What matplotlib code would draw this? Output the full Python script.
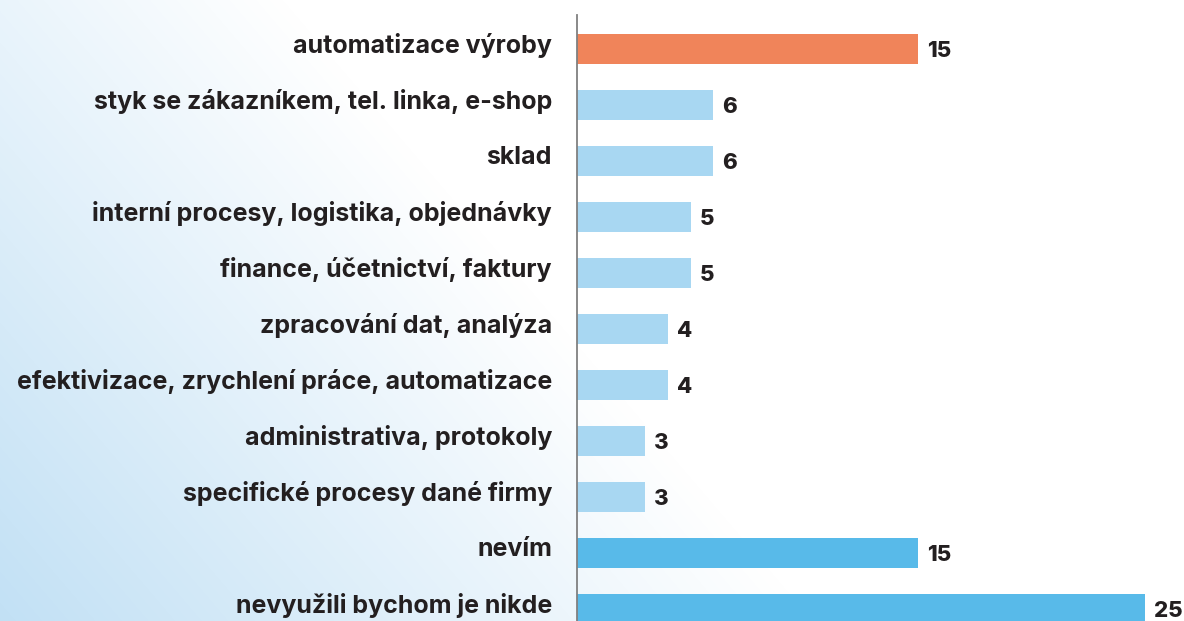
import numpy as np
import matplotlib.pyplot as plt

categories = [
    "automatizace výroby",
    "styk se zákazníkem, tel. linka, e-shop",
    "sklad",
    "interní procesy, logistika, objednávky",
    "finance, účetnictví, faktury",
    "zpracování dat, analýza",
    "efektivizace, zrychlení práce, automatizace",
    "administrativa, protokoly",
    "specifické procesy dané firmy",
    "nevím",
    "nevyužili bychom je nikde",
]
values = [15, 6, 6, 5, 5, 4, 4, 3, 3, 15, 25]
colors = ["#F0845A"] + ["#A8D7F2"] * 8 + ["#58BAE9"] * 2

W, H = 1184, 621
fig = plt.figure(figsize=(W / 100, H / 100), dpi=100)

# background gradient
bg = fig.add_axes([0, 0, 1, 1])
xx, yy = np.meshgrid(np.arange(W), np.arange(H))
t = np.clip(1 - 0.00123 * xx - 0.00105 * (H - yy), 0, 1)
blue = np.array([0.76, 0.88, 0.96])
img = 1 - t[..., None] * (1 - blue)
bg.imshow(img, aspect="auto", extent=[0, W, H, 0])
bg.axis("off")

x0 = 577
scale = 22.72
ax = fig.add_axes([x0 / W, 0, 1 - x0 / W, 1])
ax.patch.set_alpha(0)
y = np.arange(len(values))
ax.barh(y, values, height=0.55, color=colors, zorder=2)
ax.set_xlim(0, (W - x0) / scale)
ax.set_ylim((H - 49) / 56, -49 / 56)

for yi, v in zip(y, values):
    ax.annotate(str(v), (v, yi), xytext=(9, -2), textcoords="offset pixels",
                ha="left", va="center", fontsize=16, fontweight="heavy",
                color="#231F20", family="Inter")

# category labels, right aligned left of the axis
for yi, c in zip(y, categories):
    ax.annotate(c, (0, yi), xytext=(-25, 3), textcoords="offset pixels",
                ha="right", va="center", fontsize=18, fontweight="bold",
                color="#231F20", family="Inter", annotation_clip=False)

ax.set_yticks([])
ax.set_xticks([])
for s in ["top", "right", "bottom"]:
    ax.spines[s].set_visible(False)
ax.spines["left"].set_color("#808080")
ax.spines["left"].set_linewidth(1.3)
ax.spines["left"].set_bounds((15 - 49) / 56, (H - 49) / 56)

fig.savefig("out.png", dpi=100)
